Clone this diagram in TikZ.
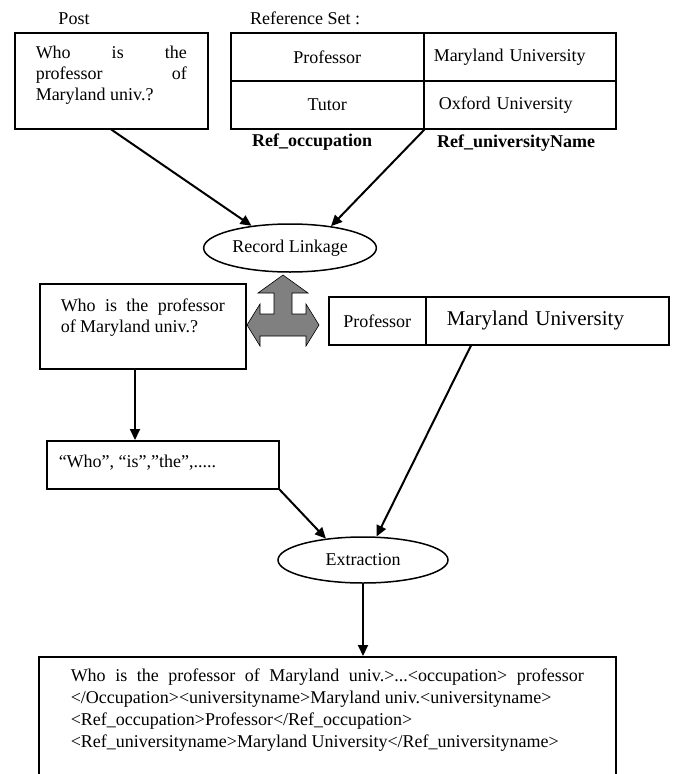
\documentclass[tikz,border=0pt]{standalone}
\usepackage{fontspec}
\setmainfont{Liberation Serif}
\usetikzlibrary{shapes.geometric,arrows.meta}

\begin{document}
\begin{tikzpicture}[x=1pt,y=-1pt]
	\tikzstyle{every node}=[font=\fontsize{18}{21}\selectfont]
	\tikzstyle{box}=[draw,line width=1.5pt,anchor=north west,inner ysep=0pt,align=justify]
	\tikzstyle{cell}=[draw,line width=1.5pt,anchor=north west,minimum height=48pt]
	\tikzstyle{process}=[ellipse,draw,line width=1.5pt,minimum width=170pt]
	\tikzstyle{heading}=[anchor=base west,inner sep=0pt]
	\tikzstyle{flow}=[draw,line width=2pt,-{Triangle[length=11pt,width=10pt]}]
	\useasboundingbox (0,0) rectangle (673,774);

	% post and reference set
	\node [anchor=base,inner sep=0pt] (postlbl) at (74,24) {Post};
	\node [box,text width=151pt,inner xsep=21pt,text height=26pt,text depth=70pt] (post) at (14,32)
		{\makebox[151pt][s]{Who is the}\\\makebox[151pt][s]{professor of}\\Maryland univ.?};
	\node [heading] (reflbl) at (250,24) {Reference Set :};
	\node [cell,minimum width=193pt] (occ1) at (230,32) {Professor};
	\node [cell,minimum width=192pt,text width=172pt,inner xsep=10pt,align=left] (uni1) at (423,32) {Maryland University};
	\node [cell,minimum width=193pt] (occ2) at (230,80) {Tutor};
	\node [cell,minimum width=192pt,text width=162pt,inner xsep=15pt,align=left] (uni2) at (423,80) {Oxford University};
	\node [heading,font=\fontsize{18}{21}\selectfont\bfseries] (occlbl) at (252,146) {Ref\_occupation};
	\node [heading,font=\fontsize{18}{21}\selectfont\bfseries] (unilbl) at (437,147) {Ref\_universityName};

	% record linkage
	\node [process,minimum height=48pt] (link) at (290,248) {Record Linkage};
	\draw [flow] (post.south) -- (link.150);
	\draw [flow] (occ2.south east) -- (link.28);

	\node [box,text width=164pt,inner xsep=21pt,text height=28pt,text depth=57pt] (post2) at (39,283)
		{\makebox[164pt][s]{Who is the professor}\\of Maryland univ.?};
	\node [cell,minimum width=97pt] (occ3) at (328,296) {Professor};
	\node [cell,minimum width=243pt,text width=201pt,inner xsep=21pt,align=left,font=\fontsize{21}{24}\selectfont] (uni3) at (425,296) {Maryland University};

	\begin{scope}[shift={(283,325)}]
		\draw [line width=0.6pt,fill=gray] (-9,-11) -- (-9,-32) -- (-25,-32) -- (0,-50) -- (25,-32) -- (9,-32) -- (9,-11)
			-- (23,-11) -- (23,-21) -- (36,0) -- (23,21) -- (23,11) -- (-23,11) -- (-23,21) -- (-36,0) -- (-23,-21) -- (-23,-11) -- cycle;
	\end{scope}

	% tokens
	\node [box,text width=208pt,inner xsep=12pt,text height=27pt,text depth=21pt] (words) at (46,440) {“Who”, “is”,”the”,.....};
	\coordinate (split) at ([xshift=96pt]post2.south west);
	\draw [flow] (split) -- (split |- words.north);

	% extraction
	\node [process,minimum height=46pt] (extr) at (363,560) {Extraction};
	\draw [flow] (words.south east) -- (extr.150);
	\draw [flow] ([xshift=46pt]uni3.south west) -- (extr.60);

	\node [box,text width=513pt,inner xsep=32pt,text height=25pt,text depth=135pt,font=\fontsize{18}{22}\selectfont] (out) at (38,656)
		{\makebox[513pt][s]{Who is the professor of Maryland univ.>...<occupation> professor}\\
		</Occupation><universityname>Maryland univ.<universityname>\\
		<Ref\_occupation>Professor</Ref\_occupation>\\
		<Ref\_universityname>Maryland University</Ref\_universityname>};
	\draw [flow] (extr.south) -- (extr.south |- out.north);
\end{tikzpicture}
\end{document}
